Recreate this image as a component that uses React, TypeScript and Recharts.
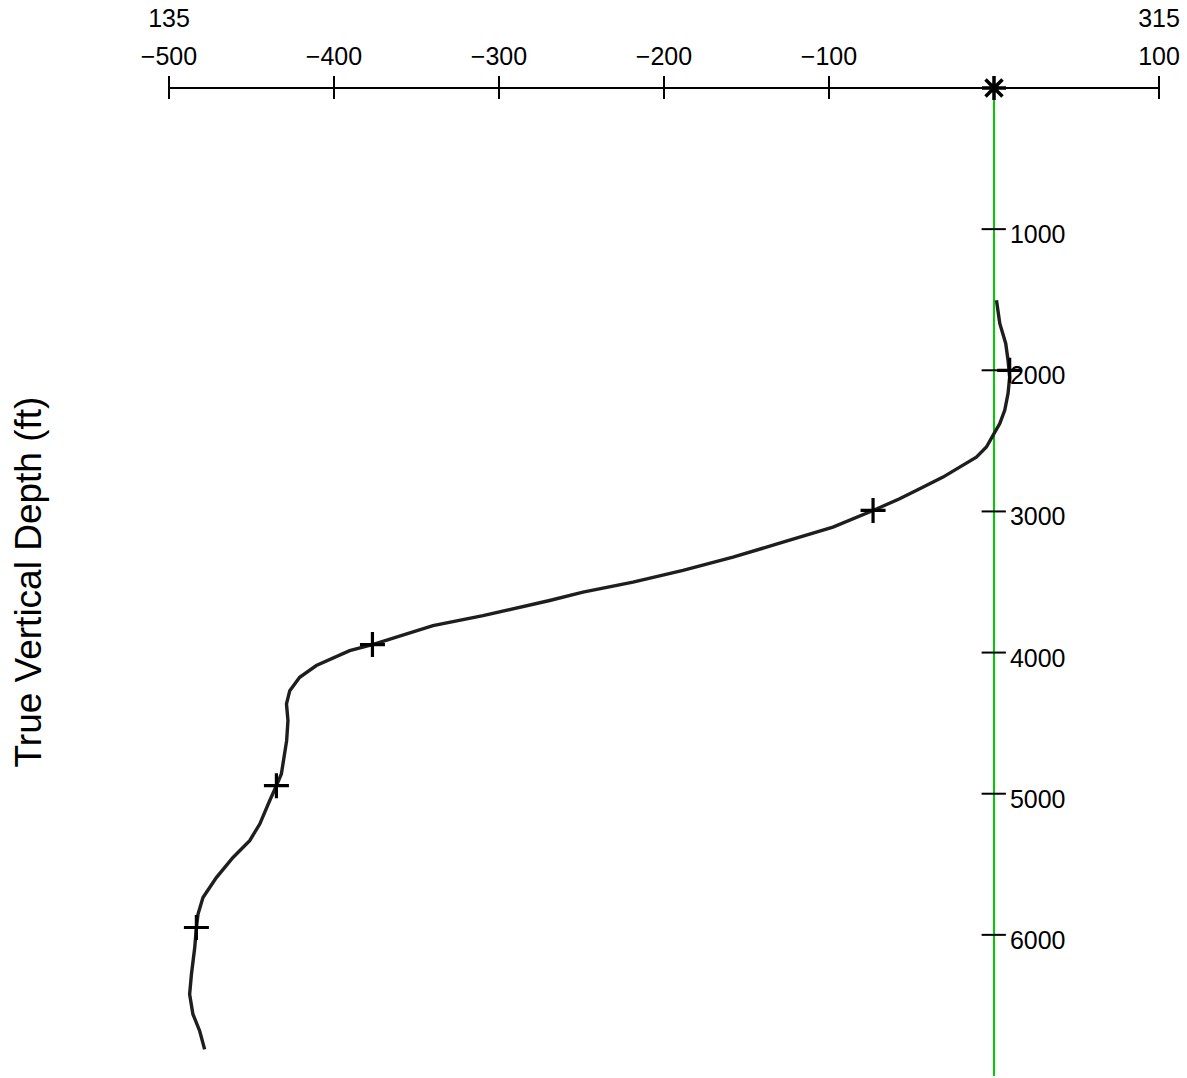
import {
  ScatterChart,
  Scatter,
  XAxis,
  YAxis,
  ReferenceLine,
} from "recharts"

// vertical section offset (ft) and TVD (ft) along the wellbore
const sectionOffset = [
  1.5, 3.5, 7.1, 8.5, 9.5, 8.5, 6.5, 3.5, 0, -4.6, -10.7, -20.8, -30.9, -45, -57.2,
  -73.3, -97.6, -127.9, -158.2, -188.5, -218.8, -249.1, -269.3, -309.7, -340,
  -376.7, -390.5, -410.7, -420.8, -426.8, -428.8, -427.9, -428.7, -431.9, -434.9,
  -439, -445, -451.1, -461.2, -471.3, -479.4, -482.4, -483.4, -484.4, -486.4,
  -487.5, -485.5, -481.4, -478.4,
]
const trueVerticalDepth = [
  1504, 1668, 1810, 1929, 2048, 2165, 2284, 2378, 2449, 2544, 2615, 2686, 2757, 2839, 2910,
  2993, 3111, 3218, 3324, 3418, 3501, 3572, 3631, 3738, 3809,
  3943, 3986, 4092, 4175, 4270, 4364, 4482, 4624, 4860, 4943,
  5050, 5215, 5333, 5452, 5594, 5736, 5853, 5948, 6090, 6279,
  6421, 6562, 6681, 6811,
]

// every 1000 ft of measured depth
const markerOffset = [9.5, -73.3, -376.7, -434.9, -483.4]
const markerTvd = [2000, 2993, 3943, 4943, 5948]

const xTicks = [-500, -400, -300, -200, -100, 100]
const azimuthTicks = [-500, 100]
const azimuthLabels = ["135", "315"]
const depthTicks = [1000, 2000, 3000, 4000, 5000, 6000]

const trajectory = sectionOffset.map((x, i) => ({ x, y: trueVerticalDepth[i] }))
const markers = markerOffset.map((x, i) => ({ x, y: markerTvd[i] }))
const surface = [{ x: 0, y: 0 }]

const FONT = "'Liberation Sans', Arial, Helvetica, sans-serif"
const fmt = (v: number) => (v < 0 ? "\u2212" + Math.abs(v) : String(v))

// eslint-disable-next-line @typescript-eslint/no-explicit-any
const MainTick = ({ x, y, payload }: any) => (
  <g>
    <line x1={x} x2={x} y1={y - 12} y2={y + 11} stroke="#000" strokeWidth={2} />
    <text x={x} y={y - 23} textAnchor="middle" fontSize={25} fontFamily={FONT} fill="#000">
      {fmt(payload.value)}
    </text>
  </g>
)

// eslint-disable-next-line @typescript-eslint/no-explicit-any
const AzimuthTick = ({ x, y, payload }: any) => (
  <text x={x} y={y + 1} textAnchor="middle" fontSize={25} fontFamily={FONT} fill="#000">
    {azimuthLabels[azimuthTicks.indexOf(payload.value)]}
  </text>
)

// eslint-disable-next-line @typescript-eslint/no-explicit-any
const PlusShape = ({ cx, cy }: any) => (
  <path
    d={`M${cx - 12.5},${cy}H${cx + 12.5}M${cx},${cy - 12.5}V${cy + 12.5}`}
    stroke="#000"
    strokeWidth={3.2}
    fill="none"
  />
)

// eslint-disable-next-line @typescript-eslint/no-explicit-any
const StarShape = ({ cx, cy }: any) => (
  <path
    d={`M${cx - 12},${cy}H${cx + 12}M${cx},${cy - 12}V${cy + 12}` +
      `M${cx - 8.5},${cy - 8.5}L${cx + 8.5},${cy + 8.5}M${cx - 8.5},${cy + 8.5}L${cx + 8.5},${cy - 8.5}`}
    stroke="#000"
    strokeWidth={3.5}
    fill="none"
  />
)

export default function App() {
  return (
    <div style={{ position: "absolute", left: 0, top: 0, background: "#fff" }}>
      <ScatterChart width={1187} height={1078} margin={{ top: 0, right: 28, bottom: 2, left: 0 }}>
        <XAxis
          type="number"
          dataKey="x"
          orientation="top"
          domain={[-500, 100]}
          ticks={xTicks}
          height={62}
          tickSize={0}
          tickMargin={0}
          tickLine={false}
          axisLine={{ stroke: "#000", strokeWidth: 2 }}
          tick={<MainTick />}
        />
        <XAxis
          xAxisId="az"
          type="number"
          dataKey="x"
          orientation="top"
          domain={[-500, 100]}
          ticks={azimuthTicks}
          height={26}
          tickSize={0}
          tickMargin={0}
          tickLine={false}
          axisLine={false}
          tick={<AzimuthTick />}
          allowDataOverflow
        />
        <YAxis
          type="number"
          dataKey="y"
          domain={[0, 7000]}
          reversed
          width={169}
          tick={false}
          tickLine={false}
          axisLine={false}
          label={{
            value: "True Vertical Depth (ft)",
            // eslint-disable-next-line @typescript-eslint/no-explicit-any
            content: (p: any) => {
              const vb = p.viewBox
              const cx = 28
              const cy = vb.y + vb.height / 2
              return (
                <text
                  x={cx}
                  y={cy}
                  transform={`rotate(-90, ${cx}, ${cy})`}
                  textAnchor="middle"
                  dominantBaseline="central"
                  fontSize={37}
                  fontFamily={FONT}
                  fill="#000"
                >
                  True Vertical Depth (ft)
                </text>
              )
            },
          }}
        />
        <ReferenceLine x={0} stroke="#00cc00" strokeWidth={2} />
        {depthTicks.map((d) => (
          <ReferenceLine
            key={d}
            segment={[{ x: -7.5, y: d }, { x: 7.2, y: d }]}
            stroke="#000"
            strokeWidth={2}
            label={{
              value: String(d),
              // eslint-disable-next-line @typescript-eslint/no-explicit-any
              content: (p: any) => {
                const vb = p.viewBox
                return (
                  <text
                    x={vb.x + vb.width + 4}
                    y={vb.y + 14}
                    fontSize={25}
                    fontFamily={FONT}
                    fill="#000"
                  >
                    {d}
                  </text>
                )
              },
            }}
          />
        ))}
        <Scatter
          data={trajectory}
          line={{ stroke: "#1e1e1e", strokeWidth: 3.4 }}
          lineType="joint"
          shape={() => <g />}
          isAnimationActive={false}
        />
        <Scatter data={markers} shape={<PlusShape />} isAnimationActive={false} />
        <Scatter data={surface} shape={<StarShape />} isAnimationActive={false} />
      </ScatterChart>
    </div>
  )
}
